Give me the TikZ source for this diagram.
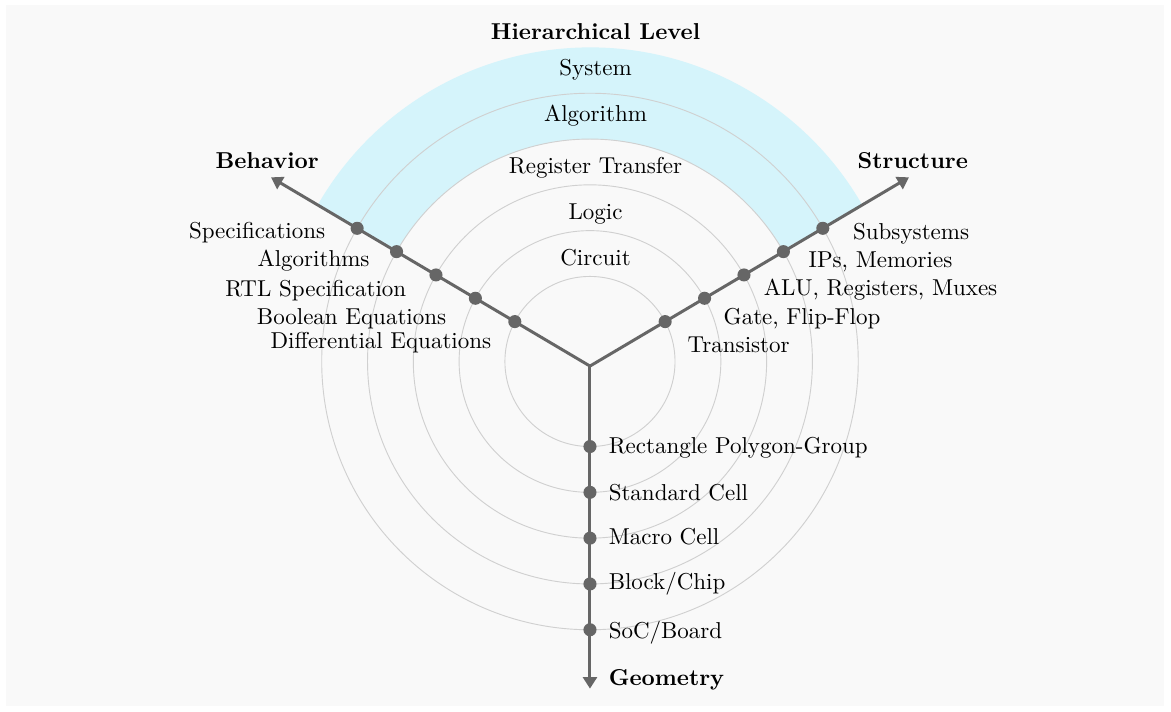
\documentclass[tikz,border=0pt]{standalone}
\usetikzlibrary{arrows.meta,calc}
\definecolor{bgcol}{RGB}{249,249,249}
\definecolor{bandcol}{RGB}{213,244,251}
\definecolor{axiscol}{RGB}{102,102,102}
\definecolor{ringcol}{RGB}{208,208,208}
\tikzset{
  ring/.style={draw=ringcol,line width=0.4pt},
  axisline/.style={draw=axiscol,line width=1.3pt},
  tip/.style={-{Triangle[length=5pt,width=6pt]}},
  dot/.style={circle,fill=axiscol,inner sep=0pt,minimum size=0.2cm},
  lbl/.style={inner sep=0pt},
  ttl/.style={inner sep=0pt,font=\bfseries}
}
\begin{document}
\begin{tikzpicture}
  \useasboundingbox (-9.017,-5.342) rectangle (8.880,5.525);
  \fill[bgcol] (-8.918,-5.258) rectangle (8.780,5.441);

  % shaded levels
  \fill[bandcol] (30:3.4) arc[start angle=30,end angle=150,radius=3.4]
    -- (150:4.8) arc[start angle=150,end angle=30,radius=4.8] -- cycle;
  \foreach \rad in {1.3,2.0,2.7,3.4,4.1}
    \draw[ring] (0,0) circle (\rad);

  % axes
  \coordinate (O) at (0,-0.07);
  \coordinate (beh) at (150:5.63);
  \coordinate (str) at (30:5.63);
  \coordinate (geo) at (0,-5);
  \draw[axisline,{Triangle[length=5pt,width=6pt]}-{Triangle[length=5pt,width=6pt]}] (beh) -- (O) -- (str);
  \draw[axisline,tip] (O) -- (geo);
  \foreach \rad [count=\i] in {1.3,2.0,2.7,3.4,4.1} {
    \node[dot] (b\i) at ($(O)!\rad cm+0.035cm!(beh)$) {};
    \node[dot] (s\i) at ($(O)!\rad cm+0.035cm!(str)$) {};
    \node[dot] (g\i) at (0,-\rad) {};
  }

  % level names
  \draw (0.085,4.924) node[ttl,anchor=base] (hl) {Hierarchical Level};
  \draw (0.085,4.368) node[lbl,anchor=base] (l5) {System};
  \draw (0.085,3.665) node[lbl,anchor=base] (l4) {Algorithm};
  \draw (0.085,2.866) node[lbl,anchor=base] (l3) {Register Transfer};
  \draw (0.085,2.163) node[lbl,anchor=base] (l2) {Logic};
  \draw (0.085,1.464) node[lbl,anchor=base] (l1) {Circuit};

  % behavior
  \draw (-4.934,2.953) node[ttl,anchor=base] (bt) {Behavior};
  \draw (-4.039,1.883) node[lbl,anchor=base east] (bl5) {Specifications};
  \draw (-3.362,1.449) node[lbl,anchor=base east] (bl4) {Algorithms};
  \draw (-2.801,1.001) node[lbl,anchor=base east] (bl3) {RTL Specification};
  \draw (-2.190,0.569) node[lbl,anchor=base east] (bl2) {Boolean Equations};
  \draw (-1.502,0.202) node[lbl,anchor=base east] (bl1) {Differential Equations};

  % structure
  \draw (4.934,2.953) node[ttl,anchor=base] (st) {Structure};
  \draw (4.015,1.872) node[lbl,anchor=base west] (sl5) {Subsystems};
  \draw (3.336,1.440) node[lbl,anchor=base west] (sl4) {IPs, Memories};
  \draw (2.649,1.006) node[lbl,anchor=base west] (sl3) {ALU, Registers, Muxes};
  \draw (2.037,0.558) node[lbl,anchor=base west] (sl2) {Gate, Flip-Flop};
  \draw (1.487,0.134) node[lbl,anchor=base west] (sl1) {Transistor};

  % geometry
  \draw (0.280,-4.955) node[ttl,anchor=base west] (gt) {Geometry};
  \draw (0.280,-1.403) node[lbl,anchor=base west] (gl1) {Rectangle Polygon-Group};
  \draw (0.280,-2.117) node[lbl,anchor=base west] (gl2) {Standard Cell};
  \draw (0.280,-2.794) node[lbl,anchor=base west] (gl3) {Macro Cell};
  \draw (0.280,-3.482) node[lbl,anchor=base west] (gl4) {Block/Chip};
  \draw (0.280,-4.231) node[lbl,anchor=base west] (gl5) {SoC/Board};
\end{tikzpicture}
\end{document}
